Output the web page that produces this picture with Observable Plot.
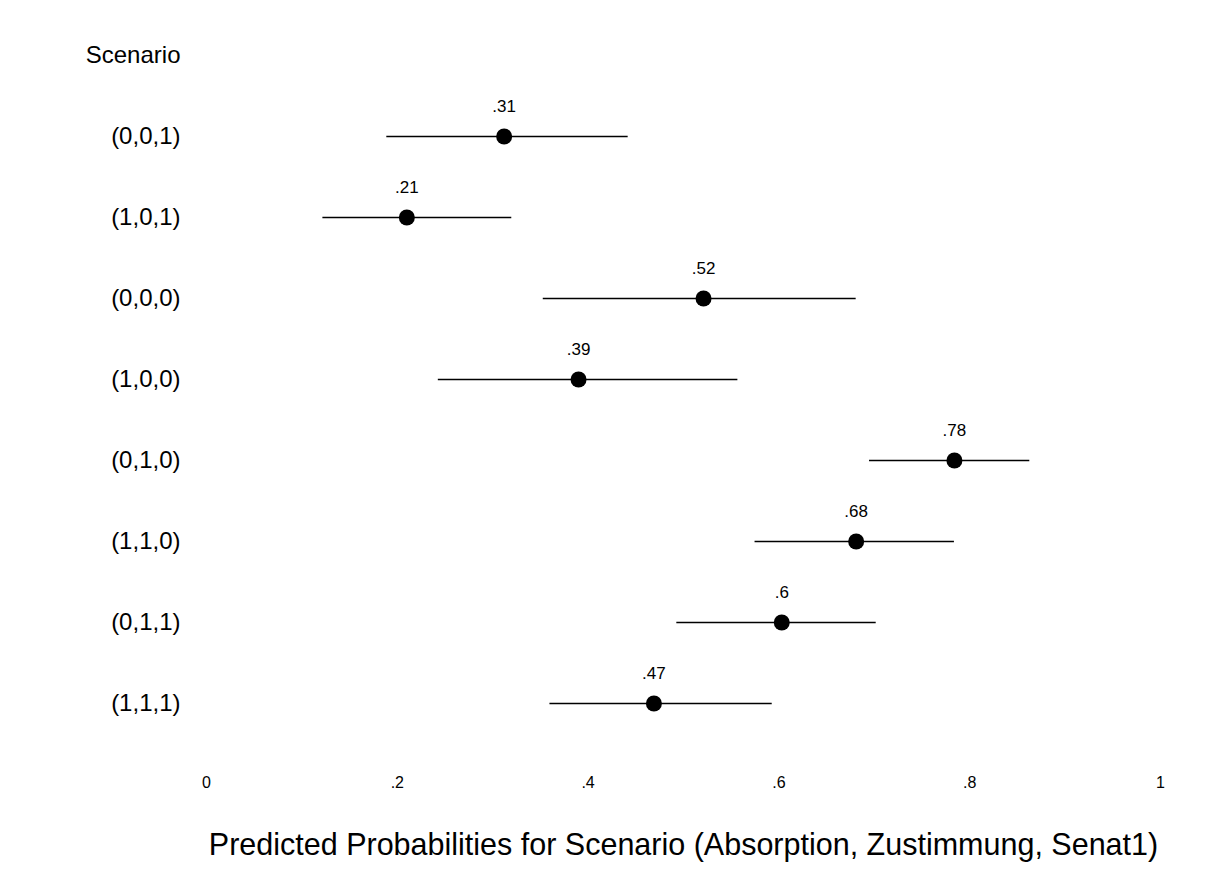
<!DOCTYPE html>
<html><head><meta charset="utf-8">
<script src="https://cdn.jsdelivr.net/npm/d3@7"></script>
<script src="https://cdn.jsdelivr.net/npm/@observablehq/plot@0.6"></script>
<style>
body{margin:0;background:#fff}
#chart svg{font-family:"Liberation Sans",Arial,Helvetica,sans-serif;background:#fff}
</style>
</head><body><div id="chart"></div>
<script>
const scenarios = ["(0,0,1)","(1,0,1)","(0,0,0)","(1,0,0)","(0,1,0)","(1,1,0)","(0,1,1)","(1,1,1)"];
const estimates = [0.312,0.210,0.521,0.390,0.784,0.681,0.603,0.469];
const lower = [0.189,0.122,0.353,0.243,0.695,0.575,0.493,0.360];
const upper = [0.442,0.320,0.681,0.557,0.863,0.784,0.702,0.593];
const xTicks = [0,0.2,0.4,0.6,0.8,1];
const yTitle = "Scenario";
const xTitle = "Predicted Probabilities for Scenario (Absorption, Zustimmung, Senat1)";

const rows = scenarios.map((s,i)=>({scenario:s, est:estimates[i], lo:lower[i], hi:upper[i]}));
const stripZero = v => String(+(+v).toFixed(2)).replace(/^0\./, ".").replace(/^-0\./, "-.");

const chart = Plot.plot({
  width: 1212, height: 882,
  marginLeft: 206, marginRight: 52, marginTop: 11, marginBottom: 136,
  x: {domain: [0, 1]},
  y: {type: "point", domain: [yTitle, ...scenarios], padding: 0.5},
  marks: [
    Plot.axisX({ticks: xTicks, tickSize: 0, tickPadding: 30, tickFormat: stripZero, fontSize: 16, label: null}),
    Plot.axisY({tickSize: 0, tickPadding: 26, fontSize: 24, label: null}),
    Plot.ruleY(rows, {y: "scenario", x1: "lo", x2: "hi", stroke: "#000", strokeWidth: 1.5}),
    Plot.dot(rows, {x: "est", y: "scenario", r: 8, fill: "#000"}),
    Plot.text(rows, {x: "est", y: "scenario", text: d => stripZero(d.est), dy: -30, fontSize: 17, lineAnchor: "middle", fill: "#000"}),
    Plot.text([xTitle], {frameAnchor: "bottom", dy: 99, text: d => d, fontSize: 30.5, lineAnchor: "middle", fill: "#000"})
  ]
});
document.getElementById("chart").append(chart);
</script>
</body></html>
